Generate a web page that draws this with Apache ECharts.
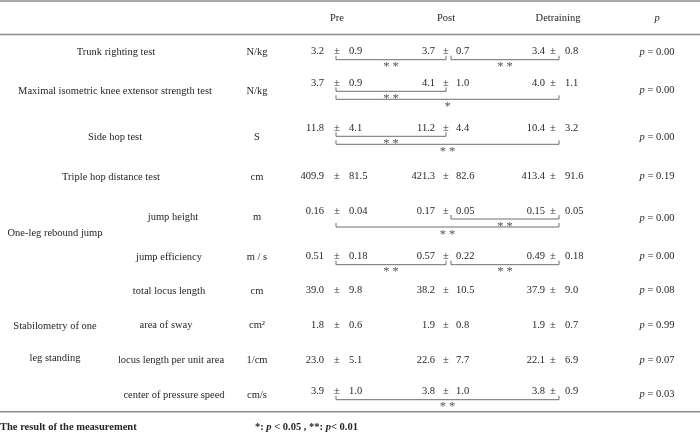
<!DOCTYPE html>
<html><head><meta charset="utf-8">
<script src="https://cdn.jsdelivr.net/npm/echarts@6/dist/echarts.min.js"></script>
<style>html,body{margin:0;padding:0;background:#fff}#c{width:700px;height:433px}</style>
</head><body><div id="c"></div>
<script>
// ---------- data ----------
const columns = ['Pre', 'Post', 'Detraining', 'p'];
const tests = ['Trunk righting test', 'Maximal isometric knee extensor strength test', 'Side hop test',
  'Triple hop distance test', 'jump height', 'jump efficiency', 'total locus length', 'area of sway',
  'locus length per unit area', 'center of pressure speed'];
const units = ['N/kg', 'N/kg', 'S', 'cm', 'm', 'm / s', 'cm', 'cm²', '1/cm', 'cm/s'];
const groupLabels = [['One-leg rebound jump'], ['Stabilometry of one', 'leg standing']];
const preMean = ['3.2', '3.7', '11.8', '409.9', '0.16', '0.51', '39.0', '1.8', '23.0', '3.9'];
const preSD = ['0.9', '0.9', '4.1', '81.5', '0.04', '0.18', '9.8', '0.6', '5.1', '1.0'];
const postMean = ['3.7', '4.1', '11.2', '421.3', '0.17', '0.57', '38.2', '1.9', '22.6', '3.8'];
const postSD = ['0.7', '1.0', '4.4', '82.6', '0.05', '0.22', '10.5', '0.8', '7.7', '1.0'];
const detMean = ['3.4', '4.0', '10.4', '413.4', '0.15', '0.49', '37.9', '1.9', '22.1', '3.8'];
const detSD = ['0.8', '1.1', '3.2', '91.6', '0.05', '0.18', '9.0', '0.7', '6.9', '0.9'];
const pValues = ['0.00', '0.00', '0.00', '0.19', '0.00', '0.00', '0.08', '0.99', '0.07', '0.03'];
// significance brackets: [row, fromColumn, toColumn, level, mark]
const brackets = [
  [0, 0, 1, 0, '* *'], [0, 1, 2, 0, '* *'],
  [1, 0, 1, 0, '* *'], [1, 0, 2, 1, '*'],
  [2, 0, 1, 0, '* *'], [2, 0, 2, 1, '* *'],
  [4, 1, 2, 0, '* *'], [4, 0, 2, 1, '* *'],
  [5, 0, 1, 0, '* *'], [5, 1, 2, 0, '* *'],
  [9, 0, 2, 0, '* *']
];
const footerTitle = 'The result of the measurement';
const footerNote = ['*: ', 'p', ' < 0.05 , **: ', 'p', '< 0.01'];

// ---------- layout (positions / styles) ----------
const FONT = '"Liberation Serif","Times New Roman",serif';
const TXT = '#262626';
const FS = 10.5;
const colX = [337, 446, 553];
const colGap = [[-13, 12], [-11, 10], [-8, 12]];
const bracketX = [336, 446, 559];
const pX = 657;
const unitX = 257;
const labelX = [116, 115, 115, 111, 173, 169, 169, 166, 171, 174];
const rowY = [52, 91.5, 137, 177, 217, 257, 291, 325.5, 360, 395];
const valY = [51.7, 83.3, 128.3, 176.7, 211, 256.7, 290.7, 325, 360, 391.7];
const pY = [52, 90.7, 137.3, 176.7, 218.3, 256.7, 290.7, 325, 360, 394];
const groupPos = [[55, [233]], [55, [326.7, 358]]];
const rules = [[1, 1.6], [34.5, 1.6], [411.7, 1.6]];
const headerY = 18.3;
const headerX = [337, 446, 558, 657];

function T(api, x, y, text, extra) {
  const p = api.coord([x, y]);
  return {
    type: 'text', x: p[0], y: p[1], silent: true,
    style: Object.assign({ text: text, fill: TXT, font: FS + 'px ' + FONT, align: 'center', verticalAlign: 'middle' }, extra || {})
  };
}
function L(api, x1, y1, x2, y2, color, w) {
  const a = api.coord([x1, y1]), b = api.coord([x2, y2]);
  return { type: 'line', silent: true, shape: { x1: a[0], y1: a[1], x2: b[0], y2: b[1] }, style: { stroke: color, lineWidth: w } };
}
function meanSd(api, c, y, m, s) {
  const cx = colX[c];
  return [
    T(api, cx + colGap[c][0], y, m, { align: 'right' }),
    T(api, cx, y, '±'),
    T(api, cx + colGap[c][1], y, s, { align: 'left' })
  ];
}

const option = {
  animation: false,
  grid: { left: 0, right: 0, top: 0, bottom: 0 },
  xAxis: { type: 'value', min: 0, max: 700, show: false },
  yAxis: { type: 'value', min: 0, max: 433, inverse: true, show: false },
  series: [
    { // frame: rules, header, group labels, footer
      type: 'custom', clip: false, data: [[0, 0]],
      renderItem: function (params, api) {
        const ch = [];
        rules.forEach(r => ch.push(L(api, 0, r[0], 700, r[0], '#8c8c8c', r[1])));
        columns.forEach((c, i) => ch.push(T(api, headerX[i], headerY, c, i === 3 ? { font: 'italic ' + FS + 'px ' + FONT } : {})));
        groupLabels.forEach((g, gi) => g.forEach((line, li) => ch.push(T(api, groupPos[gi][0], groupPos[gi][1][li], line))));
        ch.push(T(api, 0, 427, footerTitle, { align: 'left', font: 'bold ' + FS + 'px ' + FONT }));
        ch.push(T(api, 255, 427,
          footerNote.map((s, i) => i % 2 ? '{i|' + s + '}' : '{b|' + s + '}').join(''),
          { align: 'left', rich: { b: { font: 'bold ' + FS + 'px ' + FONT, fill: TXT }, i: { font: 'italic bold ' + FS + 'px ' + FONT, fill: TXT } } }));
        return { type: 'group', children: ch };
      }
    },
    { // table rows
      type: 'custom', clip: false, data: tests.map((t, i) => [0, i]),
      renderItem: function (params, api) {
        const i = params.dataIndex;
        let ch = [
          T(api, labelX[i], rowY[i], tests[i]),
          T(api, unitX, rowY[i], units[i])
        ];
        ch = ch.concat(meanSd(api, 0, valY[i], preMean[i], preSD[i]));
        ch = ch.concat(meanSd(api, 1, valY[i], postMean[i], postSD[i]));
        ch = ch.concat(meanSd(api, 2, valY[i], detMean[i], detSD[i]));
        ch.push(T(api, pX, pY[i], '{i|p} = ' + pValues[i], { rich: { i: { font: 'italic ' + FS + 'px ' + FONT, fill: TXT } } }));
        return { type: 'group', children: ch };
      }
    },
    { // significance brackets
      type: 'custom', clip: false, data: brackets.map((b, i) => [0, i]),
      renderItem: function (params, api) {
        const b = brackets[params.dataIndex];
        const y = valY[b[0]] + 8 + b[3] * 8;
        const x1 = bracketX[b[1]] + (b[1] === 1 ? 5 : 0);
        const x2 = bracketX[b[2]];
        const c = '#6e6e6e';
        return {
          type: 'group', children: [
            L(api, x1, y, x2, y, c, 1),
            L(api, x1, y - 4, x1, y, c, 1),
            L(api, x2, y - 4, x2, y, c, 1),
            T(api, (x1 + x2) / 2, y + 7.5, b[4], { font: '12.5px ' + FONT, fill: '#555' })
          ]
        };
      }
    }
  ]
};
const chart = echarts.init(document.getElementById('c'));
chart.setOption(option);
</script>
</body></html>
